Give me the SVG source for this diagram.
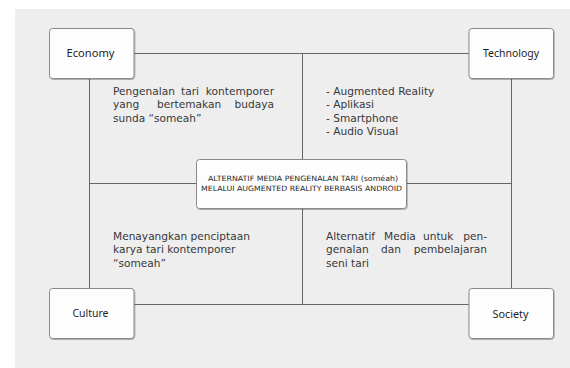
<svg xmlns="http://www.w3.org/2000/svg" width="570" height="368" viewBox="0 0 570 368">
<defs>
<filter id="sh" x="-10%" y="-10%" width="120%" height="130%">
<feDropShadow dx="0.6" dy="0.8" stdDeviation="0.5" flood-color="#000" flood-opacity="0.35"/>
</filter>
</defs>
<style>
.box{fill:#fdfdfd;stroke:#8a8a8a;stroke-width:1;filter:url(#sh)}
.lbl{font-family:"Noto Sans","Open Sans",sans-serif;font-size:10.5px;fill:#1e1e1e;text-anchor:middle}
.body{font-family:"DejaVu Sans","Noto Sans",sans-serif;font-size:10.6px;fill:#383838}
.end{text-anchor:end}
.ctr{font-family:"DejaVu Sans","Noto Sans",sans-serif;font-size:7.3px;fill:#1e1e1e;text-anchor:middle}
.ln{stroke:#666;stroke-width:1;fill:none}
</style>
<rect x="15" y="9" width="555" height="359" fill="#eeeeee"/>
<g id="connectors">
<line class="ln" x1="134" y1="53.5" x2="469" y2="53.5"/>
<line class="ln" x1="134" y1="304.5" x2="469" y2="304.5"/>
<line class="ln" x1="302.5" y1="53.5" x2="302.5" y2="159"/>
<line class="ln" x1="302.5" y1="209" x2="302.5" y2="304.5"/>
<line class="ln" x1="89.5" y1="78" x2="89.5" y2="288"/>
<line class="ln" x1="511.5" y1="78" x2="511.5" y2="288"/>
<line class="ln" x1="89.5" y1="183.5" x2="196" y2="183.5"/>
<line class="ln" x1="407" y1="183.5" x2="511.5" y2="183.5"/>
</g>
<g id="economy">
<rect class="box" x="49.5" y="28.5" width="84.5" height="50" rx="3"/>
<text class="lbl" x="90.5" y="57" textLength="48" lengthAdjust="spacingAndGlyphs">Economy</text>
</g>
<g id="technology">
<rect class="box" x="469" y="28.5" width="84.5" height="50" rx="3"/>
<text class="lbl" x="511" y="57" textLength="56" lengthAdjust="spacingAndGlyphs">Technology</text>
</g>
<g id="culture">
<rect class="box" x="49.5" y="288.5" width="84.5" height="50" rx="3"/>
<text class="lbl" x="90.5" y="317" textLength="36" lengthAdjust="spacingAndGlyphs">Culture</text>
</g>
<g id="society">
<rect class="box" x="469" y="288.5" width="84.5" height="50" rx="3"/>
<text class="lbl" x="510.5" y="317.5" textLength="36" lengthAdjust="spacingAndGlyphs">Society</text>
</g>
<g id="center">
<rect class="box" x="196.5" y="159.5" width="210" height="49" rx="3"/>
<text class="ctr" x="303" y="180.7" textLength="190" lengthAdjust="spacingAndGlyphs">ALTERNATIF MEDIA PENGENALAN TARI (soméah)</text>
<text class="ctr" x="301.5" y="190.9" textLength="201" lengthAdjust="spacingAndGlyphs">MELALUI AUGMENTED REALITY BERBASIS ANDROID</text>
</g>
<g id="text-economy">
<text class="body" x="113" y="94.5">Pengenalan</text>
<text class="body" x="181" y="94.5">tari</text>
<text class="body end" x="274" y="94.5">kontemporer</text>
<text class="body" x="113" y="108">yang</text>
<text class="body" x="157" y="108">bertemakan</text>
<text class="body end" x="274" y="108">budaya</text>
<text class="body" x="113" y="121.5">sunda “someah”</text>
</g>
<g id="text-technology">
<text class="body" x="326" y="94.5">- Augmented Reality</text>
<text class="body" x="326" y="108">- Aplikasi</text>
<text class="body" x="326" y="121.5">- Smartphone</text>
<text class="body" x="326" y="135">- Audio Visual</text>
</g>
<g id="text-culture">
<text class="body" x="113" y="239.5">Menayangkan penciptaan</text>
<text class="body" x="113" y="253">karya tari kontemporer</text>
<text class="body" x="113" y="266.5">“someah”</text>
</g>
<g id="text-society">
<text class="body" x="326" y="239.5">Alternatif</text>
<text class="body" x="384" y="239.5">Media</text>
<text class="body" x="423" y="239.5">untuk</text>
<text class="body end" x="487" y="239.5">pen-</text>
<text class="body" x="326" y="253">genalan</text>
<text class="body" x="381" y="253">dan</text>
<text class="body end" x="487" y="253">pembelajaran</text>
<text class="body" x="326" y="266.5">seni tari</text>
</g>
</svg>
